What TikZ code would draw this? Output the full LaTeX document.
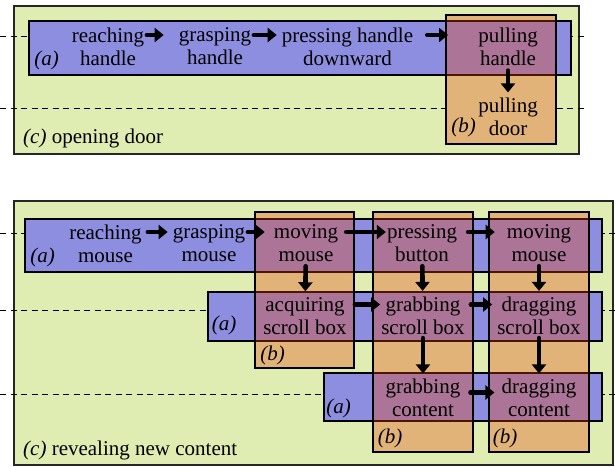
\documentclass[tikz,border=0pt]{standalone}
\usepackage{fontspec}
\setmainfont{Liberation Serif}
\usetikzlibrary{arrows.meta,fit}

\definecolor{ctxgreen}{RGB}{223,236,178}
\definecolor{actblue}{RGB}{142,142,224}
\definecolor{opred}{RGB}{235,65,5}

\begin{document}
\begin{tikzpicture}[x=1pt,y=-1pt,
ctxbox/.style={
% the (c) frame:
rectangle,draw=black!85,line width=1.5pt,
fill=ctxgreen,inner sep=0pt
},
actbar/.style={
rectangle,draw=black,line width=1.3pt,
fill=actblue,inner sep=0pt
},
opcol/.style={
rectangle,draw=black,line width=1.3pt,
fill=opred,fill opacity=0.33,inner sep=0pt
},
act/.style={align=center,inner sep=1pt,
font=\fontsize{21}{23}\selectfont},
tag/.style={inner sep=0pt,
font=\fontsize{21}{23}\selectfont\itshape},
guide/.style={dashed,dash pattern=on 6pt off 4.5pt,line width=1pt},
flow/.style={-{Triangle[length=9pt,width=14pt]},line width=4.6pt,
line cap=round,shorten <=1.5pt}
]
\useasboundingbox (0,0) rectangle (615,466);

% Opening door:
\node[ctxbox,fit={(14,6) (579,154)}] (c1) {};
\draw[guide] (0,36) -- (588,36);
\coordinate (l1) at (0,108);
\node[actbar,fit={(29,21) (571,75)}] (a1) {};
\node[opcol,fit={(446,15) (556,144)}] (b1) {};
\draw[guide] (l1) -- (l1 -| b1.west) (l1 -| b1.east) -- (588,108);

% Revealing new content:
\node[ctxbox,fit={(14,201) (613,465)}] (c2) {};
\draw[guide] (0,233) -- (615,233) (0,310) -- (615,310) (0,394) -- (615,394);
\node[actbar,fit={(25,219) (602,272)}] (a2) {};
\node[actbar,fit={(208,292) (602,341)}] (a3) {};
\node[actbar,fit={(324,373) (602,421)}] (a4) {};
\node[opcol,fit={(255,212) (354,368)}] (b2) {};
\node[opcol,fit={(373,212) (473,452)}] (b3) {};
\node[opcol,fit={(489,212) (589,452)}] (b4) {};

% Texts, first panel:
\node[act] (reach) at (108,46.5) {reaching\\handle};
\node[act] (grasp) at (215,46.5) {grasping\\handle};
\node[act] (press) at (347.5,46.5) {pressing handle\\downward};
\node[act] (pullh) at (508,46.5) {pulling\\handle};
\node[act] (pulld) at (508,116.5) {pulling\\door};
\node[tag] (a1tag) at (46.5,60) {(a)};
\node[tag] (b1tag) at (463.5,127) {(b)};
\node[tag,anchor=west] (c1tag) at (23,138) {(c) \upshape opening door};

% Texts, second panel:
\node[act] (reachm) at (105.5,243.5) {reaching\\mouse};
\node[act] (graspm) at (209,243.5) {grasping\\mouse};
\node[act] (movem) at (306,243.5) {moving\\mouse};
\node[act] (pressb) at (422,243.5) {pressing\\button};
\node[act] (moved) at (539,243.5) {moving\\mouse};
\node[act] (acq) at (305,316) {acquiring\\scroll box};
\node[act] (grabs) at (423,316) {grabbing\\scroll box};
\node[act] (drags) at (539,316) {dragging\\scroll box};
\node[act] (grabc) at (423,397.5) {grabbing\\content};
\node[act] (dragc) at (539,397.5) {dragging\\content};
\node[tag] (a2tag) at (42.5,257) {(a)};
\node[tag] (a3tag) at (224,325) {(a)};
\node[tag] (a4tag) at (338.5,408) {(a)};
\node[tag] (b2tag) at (272.5,355) {(b)};
\node[tag] (b3tag) at (390,438) {(b)};
\node[tag] (b4tag) at (505,438) {(b)};
\node[tag,anchor=west] (c2tag) at (23,450) {(c) \upshape revealing new content};

% Arrows:
\draw[flow,shorten >=14pt] ([yshift=11.5pt]reach.east) -- ([yshift=11.5pt]grasp.west);
\draw[flow,shorten >=4pt] ([yshift=11.5pt]grasp.east) -- ([yshift=11.5pt]press.west);
\draw[flow,shorten <=13pt,shorten >=29pt] ([yshift=11.5pt]press.east) -- ([yshift=11.5pt]pullh.west);
\draw[flow,shorten <=4pt,shorten >=4pt] (pullh) -- (pulld);
\draw[flow,shorten <=5pt,shorten >=4pt] ([yshift=11.5pt]reachm.east) -- ([yshift=11.5pt]graspm.west);
\draw[flow,shorten >=8pt] ([yshift=11.5pt]graspm.east) -- ([yshift=11.5pt]movem.west);
\draw[flow,shorten <=7pt] ([yshift=11.5pt]movem.east) -- ([yshift=11.5pt]pressb.west);
\draw[flow,shorten <=10pt,shorten >=11pt] ([yshift=11.5pt]pressb.east) -- ([yshift=11.5pt]moved.west);
\draw[flow,shorten <=7pt] ([yshift=11.5pt]acq.east) -- ([yshift=11.5pt]grabs.west);
\draw[flow,shorten <=5pt,shorten >=4pt] ([yshift=11.5pt]grabs.east) -- ([yshift=11.5pt]drags.west);
\draw[flow,shorten <=9pt,shorten >=6pt] ([yshift=5pt]grabc.east) -- ([yshift=5pt]dragc.west);
\draw[flow,shorten <=3pt,shorten >=5pt] (movem) -- (acq);
\draw[flow,shorten <=3pt,shorten >=5pt] (pressb) -- (grabs);
\draw[flow,shorten <=3pt,shorten >=5pt] (moved) -- (drags);
\draw[flow,shorten <=2pt,shorten >=4pt] (grabs) -- (grabc);
\draw[flow,shorten <=2pt,shorten >=4pt] (drags) -- (dragc);
\end{tikzpicture}
\end{document}
